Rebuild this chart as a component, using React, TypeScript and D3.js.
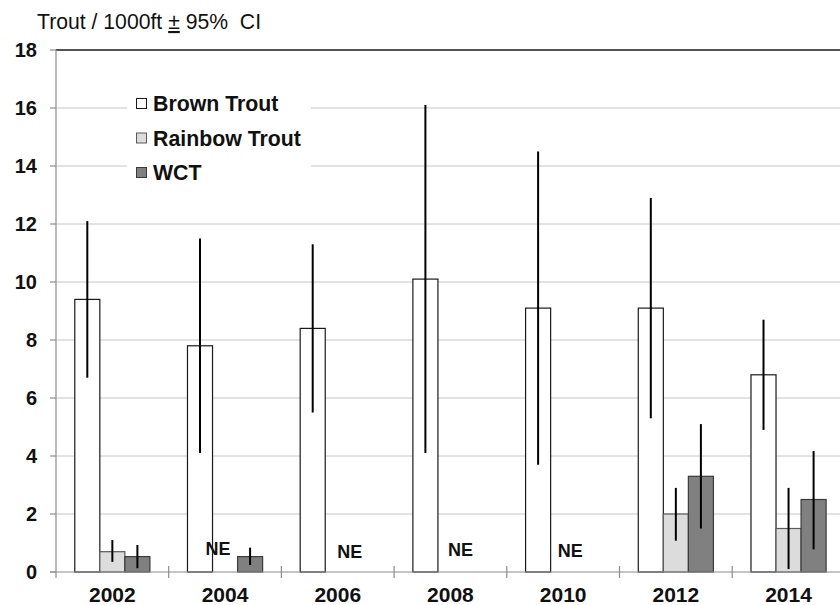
import React from "react";
import * as d3 from "d3";

const years = ["2002", "2004", "2006", "2008", "2010", "2012", "2014"];
const seriesNames = ["Brown Trout", "Rainbow Trout", "WCT"];
// null = not estimated (NE)
const brown = [9.4, 7.8, 8.4, 10.1, 9.1, 9.1, 6.8];
const brownLo = [6.7, 4.1, 5.5, 4.1, 3.7, 5.3, 4.9];
const brownHi = [12.1, 11.5, 11.3, 16.1, 14.5, 12.9, 8.7];
const rainbow = [0.7, null, null, null, null, 2.0, 1.5];
const rainbowLo = [0.35, null, null, null, null, 1.08, 0.1];
const rainbowHi = [1.1, null, null, null, null, 2.9, 2.9];
const wct = [0.53, 0.53, null, null, null, 3.3, 2.5];
const wctLo = [0.13, 0.24, null, null, null, 1.5, 0.78];
const wctHi = [0.93, 0.84, null, null, null, 5.1, 4.17];
const neYears = ["2004", "2006", "2008", "2010"];
const yTicks = [0, 2, 4, 6, 8, 10, 12, 14, 16, 18];
const title = "Trout / 1000ft ";
const titleRest = " 95%  CI";

const W = 840;
const H = 605;
const FONT = "'Liberation Sans', Arial, sans-serif";
const fills = ["#ffffff", "#dcdcdc", "#808080"];
const strokes = ["#1a1a1a", "#5a5a5a", "#3a3a3a"];
const neDx = [-7, 12, 10, 7];
const neBase = [555, 558, 556, 557];

export default function App() {
  const left = 56;
  const catW = 112.7;
  const x = d3
    .scaleBand<string>()
    .domain(years)
    .range([left, left + catW * years.length])
    .paddingInner(0)
    .paddingOuter(0);
  const y = d3.scaleLinear().domain([0, 18]).range([572, 50]);
  const barW = x.bandwidth() / 4.5;
  const inner = d3
    .scaleBand<number>()
    .domain([0, 1, 2])
    .range([x.bandwidth() / 2 - 1.5 * barW, x.bandwidth() / 2 + 1.5 * barW]);

  const series = [
    { v: brown, lo: brownLo, hi: brownHi },
    { v: rainbow, lo: rainbowLo, hi: rainbowHi },
    { v: wct, lo: wctLo, hi: wctHi },
  ];

  const plotRight = W + 10;

  return (
    <svg
      width={W}
      height={H}
      style={{ position: "absolute", left: 0, top: 0, background: "#fff" }}
      fontFamily={FONT}
    >
      <rect x={0} y={0} width={W} height={H} fill="#fff" />
      {/* gridlines */}
      {yTicks
        .filter((t) => t > 0 && t < 18)
        .map((t) => (
          <line
            key={"g" + t}
            x1={left}
            x2={plotRight}
            y1={y(t)}
            y2={y(t)}
            stroke="#c6c6c6"
            strokeWidth={1}
          />
        ))}
      <line x1={left} x2={plotRight} y1={y(18)} y2={y(18)} stroke="#1a1a1a" strokeWidth={1.5} />

      {/* legend background */}
      <rect x={127} y={86} width={184} height={104} fill="#fff" />
      {seriesNames.map((n, i) => (
        <g key={n}>
          <rect
            x={136.5}
            y={98.5 + i * 34.5}
            width={10}
            height={10}
            fill={fills[i]}
            stroke={strokes[i]}
            strokeWidth={1}
          />
          <text x={153} y={111 + i * 34.5} fontSize={21.3} fontWeight="bold" fill="#111">
            {n}
          </text>
        </g>
      ))}

      {/* bars */}
      {series.map((s, si) =>
        years.map((yr, i) => {
          const v = s.v[i];
          if (v == null) return null;
          const bx = (x(yr) as number) + (inner(si) as number);
          return (
            <rect
              key={"b" + si + yr}
              x={bx}
              y={y(v)}
              width={barW}
              height={y(0) - y(v)}
              fill={fills[si]}
              stroke={strokes[si]}
              strokeWidth={1.2}
            />
          );
        })
      )}
      {/* error bars */}
      {series.map((s, si) =>
        years.map((yr, i) => {
          const lo = s.lo[i];
          const hi = s.hi[i];
          if (lo == null || hi == null) return null;
          const cx = (x(yr) as number) + (inner(si) as number) + barW / 2;
          return (
            <line
              key={"e" + si + yr}
              x1={cx}
              x2={cx}
              y1={y(lo)}
              y2={y(hi)}
              stroke="#000"
              strokeWidth={2}
            />
          );
        })
      )}

      {/* NE labels */}
      {neYears.map((yr, i) => (
        <text
          key={"ne" + yr}
          x={(x(yr) as number) + x.bandwidth() / 2 + neDx[i]}
          y={neBase[i]}
          textAnchor="middle"
          fontSize={18}
          fontWeight="bold"
          fill="#111"
        >
          NE
        </text>
      ))}

      {/* axes */}
      <line x1={left} x2={left} y1={y(18)} y2={y(0) + 6} stroke="#8c8c8c" strokeWidth={1.2} />
      <line x1={left - 6} x2={plotRight} y1={y(0)} y2={y(0)} stroke="#8c8c8c" strokeWidth={1.2} />
      {yTicks.map((t) => (
        <g key={"yt" + t}>
          <line x1={left - 6} x2={left} y1={y(t)} y2={y(t)} stroke="#8c8c8c" strokeWidth={1.2} />
          <text
            x={37}
            y={y(t) + 7}
            textAnchor="end"
            fontSize={20}
            fontWeight="bold"
            fill="#111"
          >
            {t}
          </text>
        </g>
      ))}
      {years.map((yr, i) => (
        <g key={"xt" + yr}>
          <line
            x1={(x(yr) as number) + x.bandwidth()}
            x2={(x(yr) as number) + x.bandwidth()}
            y1={y(0) - 6}
            y2={y(0) + 6}
            stroke="#8c8c8c"
            strokeWidth={1.2}
          />
          <text
            x={(x(yr) as number) + x.bandwidth() / 2}
            y={602}
            textAnchor="middle"
            fontSize={21}
            fontWeight="bold"
            fill="#111"
          >
            {yr}
          </text>
        </g>
      ))}
      {/* title */}
      <text x={37} y={29} fontSize={21.2} fill="#111" style={{ whiteSpace: "pre" }}>
        {title}
        <tspan textDecoration="underline">±</tspan>
        {titleRest}
      </text>
    </svg>
  );
}
